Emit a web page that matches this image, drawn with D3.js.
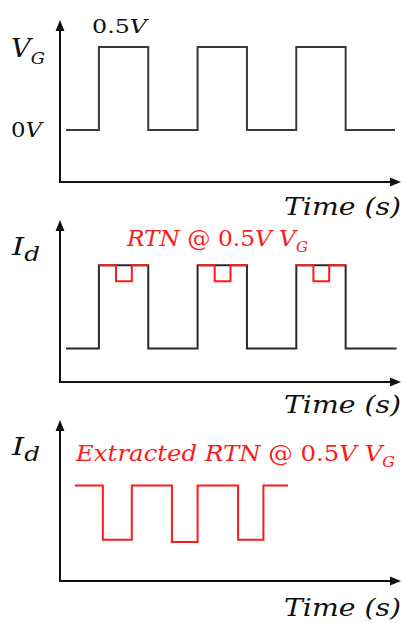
<!DOCTYPE html>
<html>
<head>
<meta charset="utf-8">
<script src="https://cdn.jsdelivr.net/npm/d3@7"></script>
<style>
  body { margin: 0; background: #fff; }
  text { font-family: "DejaVu Serif", serif; }
</style>
</head>
<body>
<div id="chart"></div>
<script>
// gate voltage pulse train: edge times and levels (step after)
var vgTime  = [0, 1, 2.5, 4, 5.5, 7, 8.5, 10];
var vgLevel = [0, 0.5, 0, 0.5, 0, 0.5, 0, 0];

// drain current: black pulse plus red RTN dips on the high part
var idTime  = [0, 1, 2.5, 4, 5.5, 7, 8.5, 10.05];
var idLevel = [0.21, 0.73, 0.21, 0.73, 0.21, 0.73, 0.21, 0.21];
var rtnTime  = [1, 1.52, 2, 2.5];
var rtnLevel = [0.73, 0.63, 0.73, 0.73];
var rtnStarts = [0, 3, 6];

// extracted RTN
var exTime  = [0.27, 1.12, 2, 3.22, 4, 5.23, 6, 6.75];
var exLevel = [0.60, 0.26, 0.60, 0.245, 0.60, 0.26, 0.60, 0.60];

var width = 406, height = 623;

var svg = d3.select('#chart')
  .append('svg')
  .attr('width', width)
  .attr('height', height);

var x = d3.scaleLinear().domain([0, 10]).range([66, 395]);

var panels = [
  { top: 22,  bottom: 182 },
  { top: 222, bottom: 382 },
  { top: 422, bottom: 581 }
];
var axisX = 60, axisEnd = 401;

panels.forEach(function(p) {
  p.y = d3.scaleLinear().domain([0, 1]).range([p.bottom, p.top]);
  var g = svg.append('g');
  g.append('line')
    .attr('x1', axisX).attr('x2', axisX)
    .attr('y1', p.bottom).attr('y2', p.top + 8)
    .attr('stroke', '#111').attr('stroke-width', 2);
  g.append('line')
    .attr('x1', axisX - 1).attr('x2', axisEnd - 8)
    .attr('y1', p.bottom).attr('y2', p.bottom)
    .attr('stroke', '#111').attr('stroke-width', 2);
  g.append('path')
    .attr('d', 'M' + axisX + ',' + (p.top - 2) + 'L' + (axisX - 4.5) + ',' + (p.top + 9) + 'L' + (axisX + 4.5) + ',' + (p.top + 9) + 'Z')
    .attr('fill', '#111');
  g.append('path')
    .attr('d', 'M' + axisEnd + ',' + p.bottom + 'L' + (axisEnd - 11) + ',' + (p.bottom - 4.5) + 'L' + (axisEnd - 11) + ',' + (p.bottom + 4.5) + 'Z')
    .attr('fill', '#111');
});

function stepLine(yScale) {
  return d3.line()
    .x(function(d) { return x(d[0]); })
    .y(function(d) { return yScale(d[1]); })
    .curve(d3.curveStepAfter);
}

// panel 1: V_G
var vgY = d3.scaleLinear().domain([0, 0.5]).range([panels[0].y(0.325), panels[0].y(0.844)]);
svg.append('path')
  .datum(d3.zip(vgTime, vgLevel))
  .attr('d', stepLine(vgY))
  .attr('fill', 'none')
  .attr('stroke', '#3a3a3a')
  .attr('stroke-width', 2);

// panel 2: I_d with RTN
svg.append('path')
  .datum(d3.zip(idTime, idLevel))
  .attr('d', stepLine(panels[1].y))
  .attr('fill', 'none')
  .attr('stroke', '#2a2a2a')
  .attr('stroke-width', 2);

rtnStarts.forEach(function(s) {
  svg.append('path')
    .datum(d3.zip(rtnTime.map(function(t) { return t + s; }), rtnLevel))
    .attr('d', stepLine(panels[1].y))
    .attr('fill', 'none')
    .attr('stroke', '#ff1a1a')
    .attr('stroke-width', 2);
});

// panel 3: extracted RTN
svg.append('path')
  .datum(d3.zip(exTime, exLevel))
  .attr('d', stepLine(panels[2].y))
  .attr('fill', 'none')
  .attr('stroke', '#ff1a1a')
  .attr('stroke-width', 2);

// labels
function label(xp, yp, size, color, parts, len, subScale) {
  var t = svg.append('text')
    .attr('x', xp).attr('y', yp)
    .attr('font-size', size)
    .attr('fill', color);
  parts.forEach(function(p) {
    var ts = t.append('tspan').text(p.s);
    if (p.i) ts.attr('font-style', 'italic');
    if (p.sub) ts.attr('font-size', size * (subScale || 0.65)).attr('dy', size * 0.25);
  });
  if (len) t.attr('textLength', len).attr('lengthAdjust', 'spacingAndGlyphs');
  return t;
}

label(92, 33, 18, '#111', [{ s: '0.5' }, { s: 'V', i: 1 }], 55);
label(11, 57, 26, '#111', [{ s: 'V', i: 1 }, { s: 'G', i: 1, sub: 1 }], 34);
label(11, 137, 21, '#111', [{ s: '0' }, { s: 'V', i: 1 }], 31);

label(12, 255, 25, '#111', [{ s: 'I', i: 1 }, { s: 'd', i: 1, sub: 1 }], 28, 0.8);
label(127, 246, 22, '#ff1a1a', [{ s: 'RTN', i: 1 }, { s: ' @ 0.5' }, { s: 'V V', i: 1 }, { s: 'G', i: 1, sub: 1 }], 181);

label(12, 455, 25, '#111', [{ s: 'I', i: 1 }, { s: 'd', i: 1, sub: 1 }], 28, 0.8);
label(76, 461, 23, '#ff1a1a', [{ s: 'Extracted RTN', i: 1 }, { s: ' @ 0.5' }, { s: 'V V', i: 1 }, { s: 'G', i: 1, sub: 1 }], 319);

[215, 413, 616].forEach(function(b) {
  label(284, b, 25, '#111', [{ s: 'Time (s)', i: 1 }], 117);
});
</script>
</body>
</html>
